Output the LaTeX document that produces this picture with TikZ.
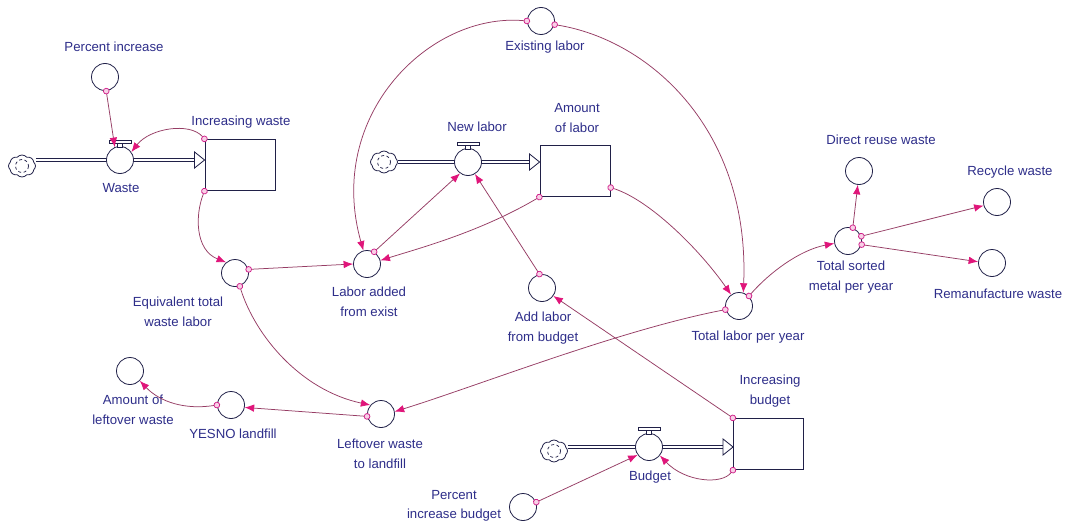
\documentclass[tikz,border=0pt]{standalone}
\usepackage{fontspec}
\setmainfont{Liberation Sans}
\usetikzlibrary{arrows.meta,shapes.symbols,calc}
\definecolor{shp}{HTML}{202048}
\definecolor{labc}{HTML}{2E2E8A}
\definecolor{lnc}{HTML}{963C64}
\definecolor{mag}{HTML}{E0157A}
\definecolor{orig}{HTML}{D0208A}
\definecolor{origf}{HTML}{F8D0E6}
\begin{document}
\begin{tikzpicture}[x=1pt,y=-1pt,
  conv/.style={circle, draw=shp, fill=white, line width=0.8pt, minimum size=27pt, inner sep=0},
  stockbox/.style={rectangle, draw=shp, fill=white, line width=0.9pt, minimum width=70pt, minimum height=51pt, inner sep=0},
  cloudnode/.style={cloud, cloud puffs=8, cloud puff arc=100, draw=shp, fill=white, line width=0.8pt, minimum width=27pt, minimum height=22pt, inner sep=0, aspect=1.2},
  pipe/.style={draw=shp, double=white, double distance=2.6pt, line width=0.8pt},
  tri/.style={draw=shp, fill=white, line width=0.8pt, line join=miter},
  lab/.style={text=labc, font=\fontsize{13.2}{19.5}\selectfont, align=center, inner sep=0},
  conn/.style={draw=lnc, line width=0.75pt, shorten <=-3pt,
    {Circle[length=6.5pt, width=6.5pt, color=orig, fill=origf]}-{Latex[length=9.5pt, width=7.5pt, color=mag]}},
  valvetop/.pic={
    \draw[shp, line width=0.8pt, fill=white] (-2.5,-16.5) rectangle (2.5,-13);
    \draw[shp, line width=0.8pt, fill=white] (-11,-19.5) rectangle (11,-16.5);
  },
]
\useasboundingbox (0,0) rectangle (1070,527);
\fill[white] (0,0) rectangle (1070,527);

% ---------- clouds, valves, stocks ----------
\coordinate (wvpos) at (120,160);
\coordinate (nlpos) at (468,162);
\coordinate (bvpos) at (649,447);

\node[stockbox] (IW) at (240,165) {};
\node[stockbox] (AL) at (575,171) {};
\node[stockbox] (IB) at (768.5,444) {};

\coordinate (wtip) at (IW.west |- wvpos);
\coordinate (ntip) at (AL.west |- nlpos);
\coordinate (btip) at (IB.west |- bvpos);

\node[cloudnode] (c1) at (22,166) {};
\node[cloudnode] (c2) at (384,162) {};
\node[cloudnode] (c3) at (554,451) {};
\foreach \c in {c1,c2,c3}
  \draw[shp, line width=0.7pt, dash pattern=on 3pt off 2.5pt] (\c) circle[radius=6.5];

\draw[pipe] (c1.east |- wvpos) -- ($(wtip)+(-10,0)$);
\draw[pipe] (c2.east |- nlpos) -- ($(ntip)+(-10,0)$);
\draw[pipe] (c3.east |- bvpos) -- ($(btip)+(-10,0)$);
\draw[tri] (wtip) -- ++(-10,-8) -- ++(0,16) -- cycle;
\draw[tri] (ntip) -- ++(-10,-8) -- ++(0,16) -- cycle;
\draw[tri] (btip) -- ++(-10,-8) -- ++(0,16) -- cycle;

\node[conv] (wv) at (wvpos) {};
\node[conv] (NL) at (nlpos) {};
\node[conv] (BV) at (bvpos) {};
\pic at (wv) {valvetop};
\pic at (NL) {valvetop};
\pic at (BV) {valvetop};

% ---------- converters ----------
\node[conv] (pinc) at (105,77) {};
\node[conv] (Eq) at (235,273) {};
\node[conv] (LA) at (367,264) {};
\node[conv] (EL) at (541,21) {};
\node[conv] (AB) at (542,288) {};
\node[conv] (TL) at (739,306) {};
\node[conv] (TS) at (848,241) {};
\node[conv] (DR) at (859,171) {};
\node[conv] (RW) at (997,202) {};
\node[conv] (RM) at (992,263) {};
\node[conv] (PIB) at (523,507) {};
\node[conv] (LW) at (381,414) {};
\node[conv] (YN) at (231,405) {};
\node[conv] (AO) at (130,371) {};

% ---------- labels ----------
\node[lab] (lpinc) at (114,47) {Percent increase};
\node[lab] (liw) at (241,122) {Increasing waste};
\node[lab] (lwv) at (121,188) {Waste};
\node[lab] (lnl) at (477,127) {New labor};
\node[lab] (lal) at (577,118) {Amount\\of labor};
\node[lab] (lel) at (545,47) {Existing labor};
\node[lab] (lla) at (369,302) {Labor added\\from exist};
\node[lab] (leq) at (178,312) {Equivalent total\\waste labor};
\node[lab] (lab) at (543,328) {Add labor\\from budget};
\node[lab] (ltl) at (748,337) {Total labor per year};
\node[lab] (ldr) at (881,140) {Direct reuse waste};
\node[lab] (lrw) at (1010,172) {Recycle waste};
\node[lab] (lts) at (851,277) {Total sorted\\metal per year};
\node[lab] (lrm) at (998,294) {Remanufacture waste};
\node[lab] (lib) at (770,391) {Increasing\\budget};
\node[lab] (lbv) at (650,477) {Budget};
\node[lab] (lpib) at (454,506) {Percent\\increase budget};
\node[lab] (llw) at (380,454) {Leftover waste\\to landfill};
\node[lab] (lyn) at (233,434) {YESNO landfill};
\node[lab] (lao) at (133,410) {Amount of\\leftover waste};

% ---------- connectors ----------
\draw[conn] (pinc.-85) -- (wv.112);
\draw[conn] (IW.north west) .. controls (190,122) and (150,128) .. (wv.35);
\draw[conn] (IW.south west) .. controls (195,215) and (195,250) .. (Eq.130);
\draw[conn] (Eq.15) -- (LA.180);
\draw[conn] (Eq.-70) .. controls (255,335) and (300,390) .. (LW.140);
\draw[conn] (LA.60) -- (NL.-125);
\draw[conn] (AL.south west) .. controls (480,232) and (420,248) .. (LA.15);
\draw[conn] (AB.100) -- (NL.-60);
\draw[conn] (AL.-25) .. controls (650,200) and (700,250) .. (TL.125);
\draw[conn] (EL.180) .. controls (430,12) and (325,115) .. (LA.105);
\draw[conn] (EL.-15) .. controls (650,40) and (750,130) .. (TL.72);
\draw[conn] (TL.45) .. controls (770,272) and (800,250) .. (TS.190);
\draw[conn] (TL.195) .. controls (620,330) and (480,385) .. (LW.10);
\draw[conn] (TS.70) -- (DR.-95);
\draw[conn] (TS.20) -- (RW.195);
\draw[conn] (TS.-15) -- (RM.175);
\draw[conn] (IB.north west) -- (AB.-35);
\draw[conn] (IB.south west) .. controls (722,485) and (685,482) .. (BV.-38);
\draw[conn] (PIB.20) -- (BV.-145);
\draw[conn] (LW.190) -- (YN.-10);
\draw[conn] (YN.180) .. controls (185,410) and (160,402) .. (AO.-45);
\end{tikzpicture}
\end{document}
